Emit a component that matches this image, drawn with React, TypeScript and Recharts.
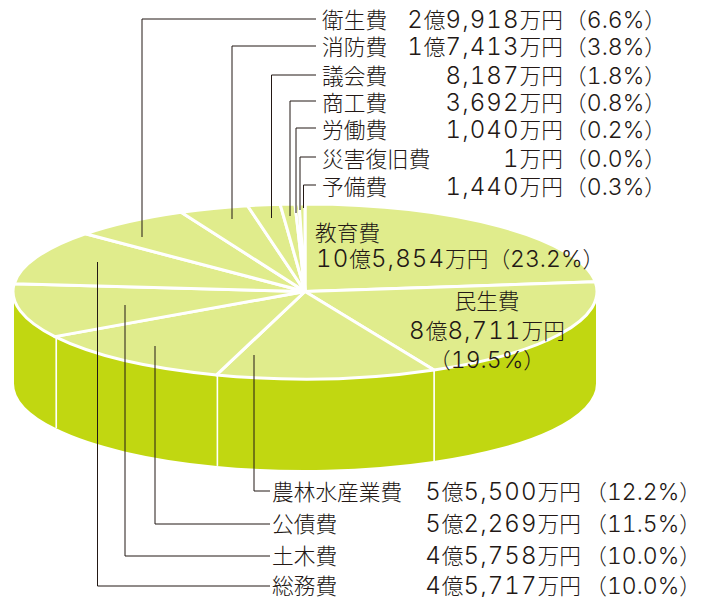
import { Pie, PieChart } from "recharts";

const categories = ["教育費", "民生費", "農林水産業費", "公債費", "土木費", "総務費", "衛生費", "消防費", "議会費", "商工費", "労働費", "災害復旧費", "予備費"];
// 単位：万円
const amounts = [105854, 88711, 55500, 52269, 45758, 45717, 29918, 17413, 8187, 3692, 1040, 1, 1440];
const amountLabels = ["10億5,854万円", "8億8,711万円", "5億5,500万円", "5億2,269万円", "4億5,758万円", "4億5,717万円", "2億9,918万円", "1億7,413万円", "8,187万円", "3,692万円", "1,040万円", "1万円", "1,440万円"];
const percentLabels = ["23.2%", "19.5%", "12.2%", "11.5%", "10.0%", "10.0%", "6.6%", "3.8%", "1.8%", "0.8%", "0.2%", "0.0%", "0.3%"];

const data = categories.map((name, i) => ({ name, value: amounts[i] }));

const WIDTH = 701;
const HEIGHT = 597;
const CX = 305;
const CY = 291.5;
const RX = 291;
const RY = 86.5;
const DEPTH = 92;
const TOP_COLOR = "#e0ec8c";
const WALL_COLOR = "#c1d711";
const TEXT_COLOR = "#231815";
const SEP_WIDTH = 3;

const pt = (deg: number, cx: number, cy: number, rx: number, ry: number) => {
  const a = (deg * Math.PI) / 180;
  return [cx + rx * Math.cos(a), cy - ry * Math.sin(a)];
};

function TopSlice(props: any) {
  const { cx, cy, outerRadius, startAngle, endAngle } = props;
  // white rim eats half the stroke, so grow the face a little
  const rx = outerRadius + 1;
  const ry = (outerRadius * RY) / RX + 1;
  const [x1, y1] = pt(startAngle, cx, cy, rx, ry);
  const [x2, y2] = pt(endAngle, cx, cy, rx, ry);
  const large = Math.abs(startAngle - endAngle) > 180 ? 1 : 0;
  return (
    <path
      d={`M${cx},${cy} L${x1},${y1} A${rx},${ry} 0 ${large} 1 ${x2},${y2} Z`}
      fill={TOP_COLOR}
      stroke="#fff"
      strokeWidth={SEP_WIDTH}
      strokeLinejoin="round"
    />
  );
}

function WallSlice(props: any) {
  const { cx, cy, outerRadius: rx, startAngle, endAngle } = props;
  const ry = (rx * RY) / RX;
  // only the front half of the drum shows
  const t1 = Math.max(90 - startAngle, 90);
  const t2 = Math.min(90 - endAngle, 270);
  if (t1 >= t2) return <g />;
  const [x1, y1] = pt(90 - t1, cx, cy, rx, ry);
  const [x2, y2] = pt(90 - t2, cx, cy, rx, ry);
  return (
    <g>
      <path
        d={`M${x1},${y1} A${rx},${ry} 0 0 1 ${x2},${y2} L${x2},${y2 + DEPTH} A${rx},${ry} 0 0 0 ${x1},${y1 + DEPTH} Z`}
        fill={WALL_COLOR}
      />
      {t1 > 90 && <line x1={x1} y1={y1} x2={x1} y2={y1 + DEPTH} stroke="#fff" strokeWidth={SEP_WIDTH / 2} transform="translate(0.6,0)" />}
      {t2 < 270 && <line x1={x2} y1={y2} x2={x2} y2={y2 + DEPTH} stroke="#fff" strokeWidth={SEP_WIDTH / 2} transform="translate(-0.6,0)" />}
    </g>
  );
}

// 引き出し線 [index, x, 円グラフ側y, 線y, 文字の基線y]
const topLeaders = [
  [6, 142, 237, 19, 27.5],
  [7, 232, 219, 46, 54.5],
  [8, 271.5, 218, 75, 83.5],
  [9, 290, 216, 101, 110.5],
  [10, 296, 213, 128, 138],
  [11, 300, 210, 157, 166.5],
  [12, 303.5, 208, 185, 195],
];
const bottomLeaders = [
  [2, 254, 355, 491, 500],
  [3, 155, 346, 524, 532],
  [4, 125, 305, 556, 563.5],
  [5, 97.5, 262, 586, 594],
];

// 数字だけ幅広の欧文書体にする
function Txt({ x, y, anchor, children }: { x: number; y: number; anchor?: "end" | "middle"; children: string }) {
  const parts = children.split(/([0-9.,%]+)/).filter(Boolean);
  return (
    <text x={x} y={y} textAnchor={anchor} fill={TEXT_COLOR} fontFamily='"Noto Sans CJK JP", sans-serif' fontSize={21.7} fontWeight={300}>
      {parts.map((p, i) =>
        /^[0-9.,%]/.test(p) ? (
          <tspan
            key={i}
            fontFamily="Inter, sans-serif"
            fontSize={p.endsWith("%") ? 23 : 24}
            letterSpacing={p.endsWith("%") ? 0 : 1.1}
            fontWeight={300}
            style={{ fontVariantNumeric: "tabular-nums" }}
          >
            {p}
          </tspan>
        ) : (
          <tspan key={i}>{p}</tspan>
        ),
      )}
    </text>
  );
}

export default function App() {
  return (
    <div style={{ position: "absolute", left: 0, top: 0, width: WIDTH, height: HEIGHT }}>
      <PieChart width={WIDTH} height={HEIGHT} margin={{ top: 0, right: 0, bottom: 0, left: 0 }}>
        <Pie
          data={data}
          dataKey="value"
          cx={CX}
          cy={CY}
          outerRadius={RX}
          startAngle={90}
          endAngle={-270}
          shape={WallSlice}
          isAnimationActive={false}
        />
        <Pie
          data={data}
          dataKey="value"
          cx={CX}
          cy={CY}
          outerRadius={RX}
          startAngle={90}
          endAngle={-270}
          shape={TopSlice}
          isAnimationActive={false}
        />
      </PieChart>
      <svg width={WIDTH} height={HEIGHT} style={{ position: "absolute", left: 0, top: 0 }}>
        {topLeaders.map(([i, x, y0, y1, base]) => (
          <g key={i}>
            <path d={`M${x},${y0} V${y1} H316`} fill="none" stroke={TEXT_COLOR} strokeWidth={1} />
            <Txt x={322} y={base}>{categories[i]}</Txt>
            <Txt x={563} y={base} anchor="end">{amountLabels[i]}</Txt>
            <Txt x={666} y={base} anchor="end">{`（${percentLabels[i]}）`}</Txt>
          </g>
        ))}
        {bottomLeaders.map(([i, x, y0, y1, base]) => (
          <g key={i}>
            <path d={`M${x},${y0} V${y1} H270`} fill="none" stroke={TEXT_COLOR} strokeWidth={1} />
            <Txt x={272} y={base}>{categories[i]}</Txt>
            <Txt x={581} y={base} anchor="end">{amountLabels[i]}</Txt>
            <Txt x={701} y={base} anchor="end">{`（${percentLabels[i]}）`}</Txt>
          </g>
        ))}
        <Txt x={315} y={241}>{categories[0]}</Txt>
        <Txt x={316} y={267}>{`${amountLabels[0]}（${percentLabels[0]}）`}</Txt>
        <Txt x={487} y={309} anchor="middle">{categories[1]}</Txt>
        <Txt x={487} y={339} anchor="middle">{amountLabels[1]}</Txt>
        <Txt x={487} y={368} anchor="middle">{`（${percentLabels[1]}）`}</Txt>
      </svg>
    </div>
  );
}
